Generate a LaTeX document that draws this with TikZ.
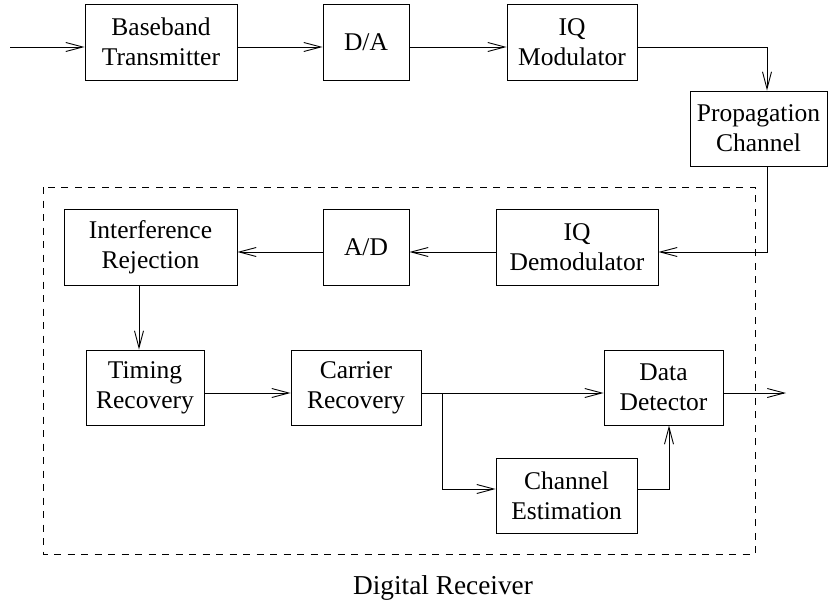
\documentclass[tikz,border=0pt]{standalone}
\usepackage{fontspec}
\setmainfont{Liberation Serif}
\usetikzlibrary{arrows.meta}

\begin{document}
\begin{tikzpicture}[x=1pt,y=-1pt,
  blk/.style={draw, line width=0.9pt, align=center, inner sep=0pt,
              font=\fontsize{25.5}{30}\selectfont},
  flow/.style={line width=0.9pt, -{Straight Barb[length=17pt,width=9pt,line width=0.9pt]}},
  frame/.style={draw, line width=0.9pt, dash pattern=on 7pt off 6.5pt}
]
\useasboundingbox (0,0) rectangle (833,605);

% transmitter chain
\node[blk, minimum width=152pt, minimum height=76pt] (bt)   at (161,42)    {Baseband\\Transmitter};
\node[blk, minimum width=86pt,  minimum height=76pt] (da)   at (366,42)    {D/A};
\node[blk, minimum width=130pt, minimum height=76pt] (iqm)  at (572,42)    {IQ\\Modulator};
\node[blk, minimum width=137pt, minimum height=75pt] (prop) at (758.5,128.5) {Propagation\\Channel};

% receiver blocks
\node[blk, minimum width=173pt, minimum height=76pt] (ir)   at (150.5,247) {Interference\\Rejection};
\node[blk, minimum width=86pt,  minimum height=76pt] (ad)   at (366,247)   {A/D};
\node[blk, minimum width=162pt, minimum height=76pt] (iqd)  at (577,247)   {IQ\\Demodulator};
\node[blk, minimum width=118pt, minimum height=75pt] (tr)   at (145,387.5) {Timing\\Recovery};
\node[blk, minimum width=130pt, minimum height=75pt] (cr)   at (356,387.5) {Carrier\\Recovery};
\node[blk, minimum width=119pt, minimum height=75pt] (dd)   at (663.5,387.5) {Data\\Detector};
\node[blk, minimum width=141pt, minimum height=75pt] (ce)   at (566.5,495.5) {Channel\\Estimation};

% receiver boundary and its caption
\coordinate (fa) at (43,187);
\coordinate (fb) at (755,554);
\draw[frame] (fa) rectangle (fb);
\node[font=\fontsize{27.3}{30}\selectfont] (cap) at (443,588) {Digital Receiver};

% free ends
\coordinate (in)  at (10,47);
\coordinate (out) at (786,393);
\coordinate (br)  at (442,393);

% connectors
\draw[flow] (in) -- ([yshift=-5pt]bt.west);
\draw[flow] ([yshift=-5pt]bt.east) -- ([yshift=-5pt]da.west);
\draw[flow] ([yshift=-5pt]da.east) -- ([yshift=-5pt]iqm.west);
\draw[flow] ([yshift=-5pt]iqm.east) -| ([xshift=8.5pt]prop.north);
\draw[flow] ([xshift=8.5pt]prop.south) |- ([yshift=-5pt]iqd.east);
\draw[flow] ([yshift=-5pt]iqd.west) -- ([yshift=-5pt]ad.east);
\draw[flow] ([yshift=-5pt]ad.west) -- ([yshift=-5pt]ir.east);
\draw[flow] ([xshift=-11.5pt]ir.south) -- ([xshift=-11.5pt]ir.south |- tr.north);
\draw[flow] ([yshift=-5.5pt]tr.east) -- ([yshift=-5.5pt]cr.west);
\draw[flow] ([yshift=-5.5pt]cr.east) -- ([yshift=-5.5pt]dd.west);
\draw[flow] (br) |- ([yshift=6.5pt]ce.west);
\draw[flow] ([yshift=6.5pt]ce.east) -| ([xshift=5.5pt]dd.south);
\draw[flow] ([yshift=-5.5pt]dd.east) -- (out);
\end{tikzpicture}
\end{document}
